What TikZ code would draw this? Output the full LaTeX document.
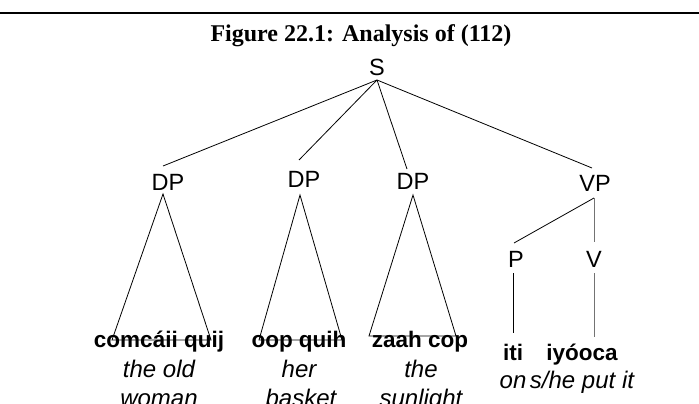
\documentclass[tikz,border=0pt]{standalone}
\usepackage{fontspec}
\setmainfont{Liberation Serif}
\newfontfamily\arialf{Liberation Sans}
\begin{document}
\begin{tikzpicture}[x=1pt,y=-1pt,
  lab/.style={font=\arialf\fontsize{23.5}{28}\selectfont, inner sep=0pt, anchor=base},
  word/.style={font=\arialf\bfseries\fontsize{22.5}{27}\selectfont, inner sep=0pt, anchor=base},
  gloss/.style={font=\arialf\itshape\fontsize{24}{28}\selectfont, inner sep=0pt, anchor=base},
  edge/.style={line width=0.8pt, line join=miter},
  gedge/.style={line width=0.8pt, draw=black!55},
  ttl/.style={font=\bfseries\fontsize{24}{28}\selectfont, inner sep=0pt, anchor=base}]
\useasboundingbox (0,0) rectangle (699,404);
\clip (0,0) rectangle (699,404);
% rule and title
\coordinate (rl) at (0,13);
\coordinate (rr) at (699,13);
\draw[line width=2pt] (rl) -- (rr);
\node[ttl] (title) at (361,42) {Figure 22.1: Analysis of (112)};
% labels
\node[lab] (S) at (377,76) {S};
\node[lab] (DP1) at (168,190) {DP};
\node[lab] (DP2) at (304,187) {DP};
\node[lab] (DP3) at (413,189) {DP};
\node[lab] (VP) at (595,191) {VP};
\node[lab] (P) at (516,267) {P};
\node[lab] (V) at (594,267) {V};
% words
\node[word] (w1) at (159,347) {comcáii quij};
\node[word] (w2) at (299,347) {oop quih};
\node[word] (w3) at (420,347) {zaah cop};
\node[word] (w4) at (513,360) {iti};
\node[word] (w5) at (582,360) {iyóoca};
% glosses
\node[gloss] (g1a) at (159,377) {the old};
\node[gloss] (g1b) at (159,406) {woman};
\node[gloss] (g2a) at (299,377) {her};
\node[gloss] (g2b) at (301,406) {basket};
\node[gloss] (g3a) at (421,377) {the};
\node[gloss] (g3b) at (421,406) {sunlight};
\node[gloss] (g4) at (513,388) {on};
\node[gloss] (g5) at (582,388) {s/he put it};
% connector points
\coordinate (Sb) at (377,80);
\coordinate (d1t) at (163,166);
\coordinate (d2t) at (299,160);
\coordinate (d3t) at (407,169);
\coordinate (vpt) at (592,168);
\coordinate (d1a) at (163,194);
\coordinate (d1l) at (112,340);
\coordinate (d1r) at (211,340);
\coordinate (d2a) at (300,195);
\coordinate (d2l) at (259,340);
\coordinate (d2r) at (342,340);
\coordinate (d3a) at (413,195);
\coordinate (d3l) at (369,336);
\coordinate (d3r) at (456,336);
\coordinate (vpb) at (594,198);
\coordinate (pt) at (514,243);
\coordinate (vt) at (594,242);
\coordinate (pb) at (513,273);
\coordinate (itit) at (513,333);
\coordinate (vb) at (594,273);
\coordinate (iyt) at (594,337);
% edges
\draw[edge] (Sb) -- (d1t);
\draw[edge] (Sb) -- (d2t);
\draw[edge] (Sb) -- (d3t);
\draw[edge] (Sb) -- (vpt);
\draw[edge] (d1a) -- (d1l) -- (d1r) -- cycle;
\draw[edge] (d2a) -- (d2l) -- (d2r) -- cycle;
\draw[edge] (d3a) -- (d3l) -- (d3r) -- cycle;
\draw[edge] (vpb) -- (pt);
\draw[gedge] (vpb) -- (vt);
\draw[edge] (pb) -- (itit);
\draw[gedge] (vb) -- (iyt);
\end{tikzpicture}
\end{document}
